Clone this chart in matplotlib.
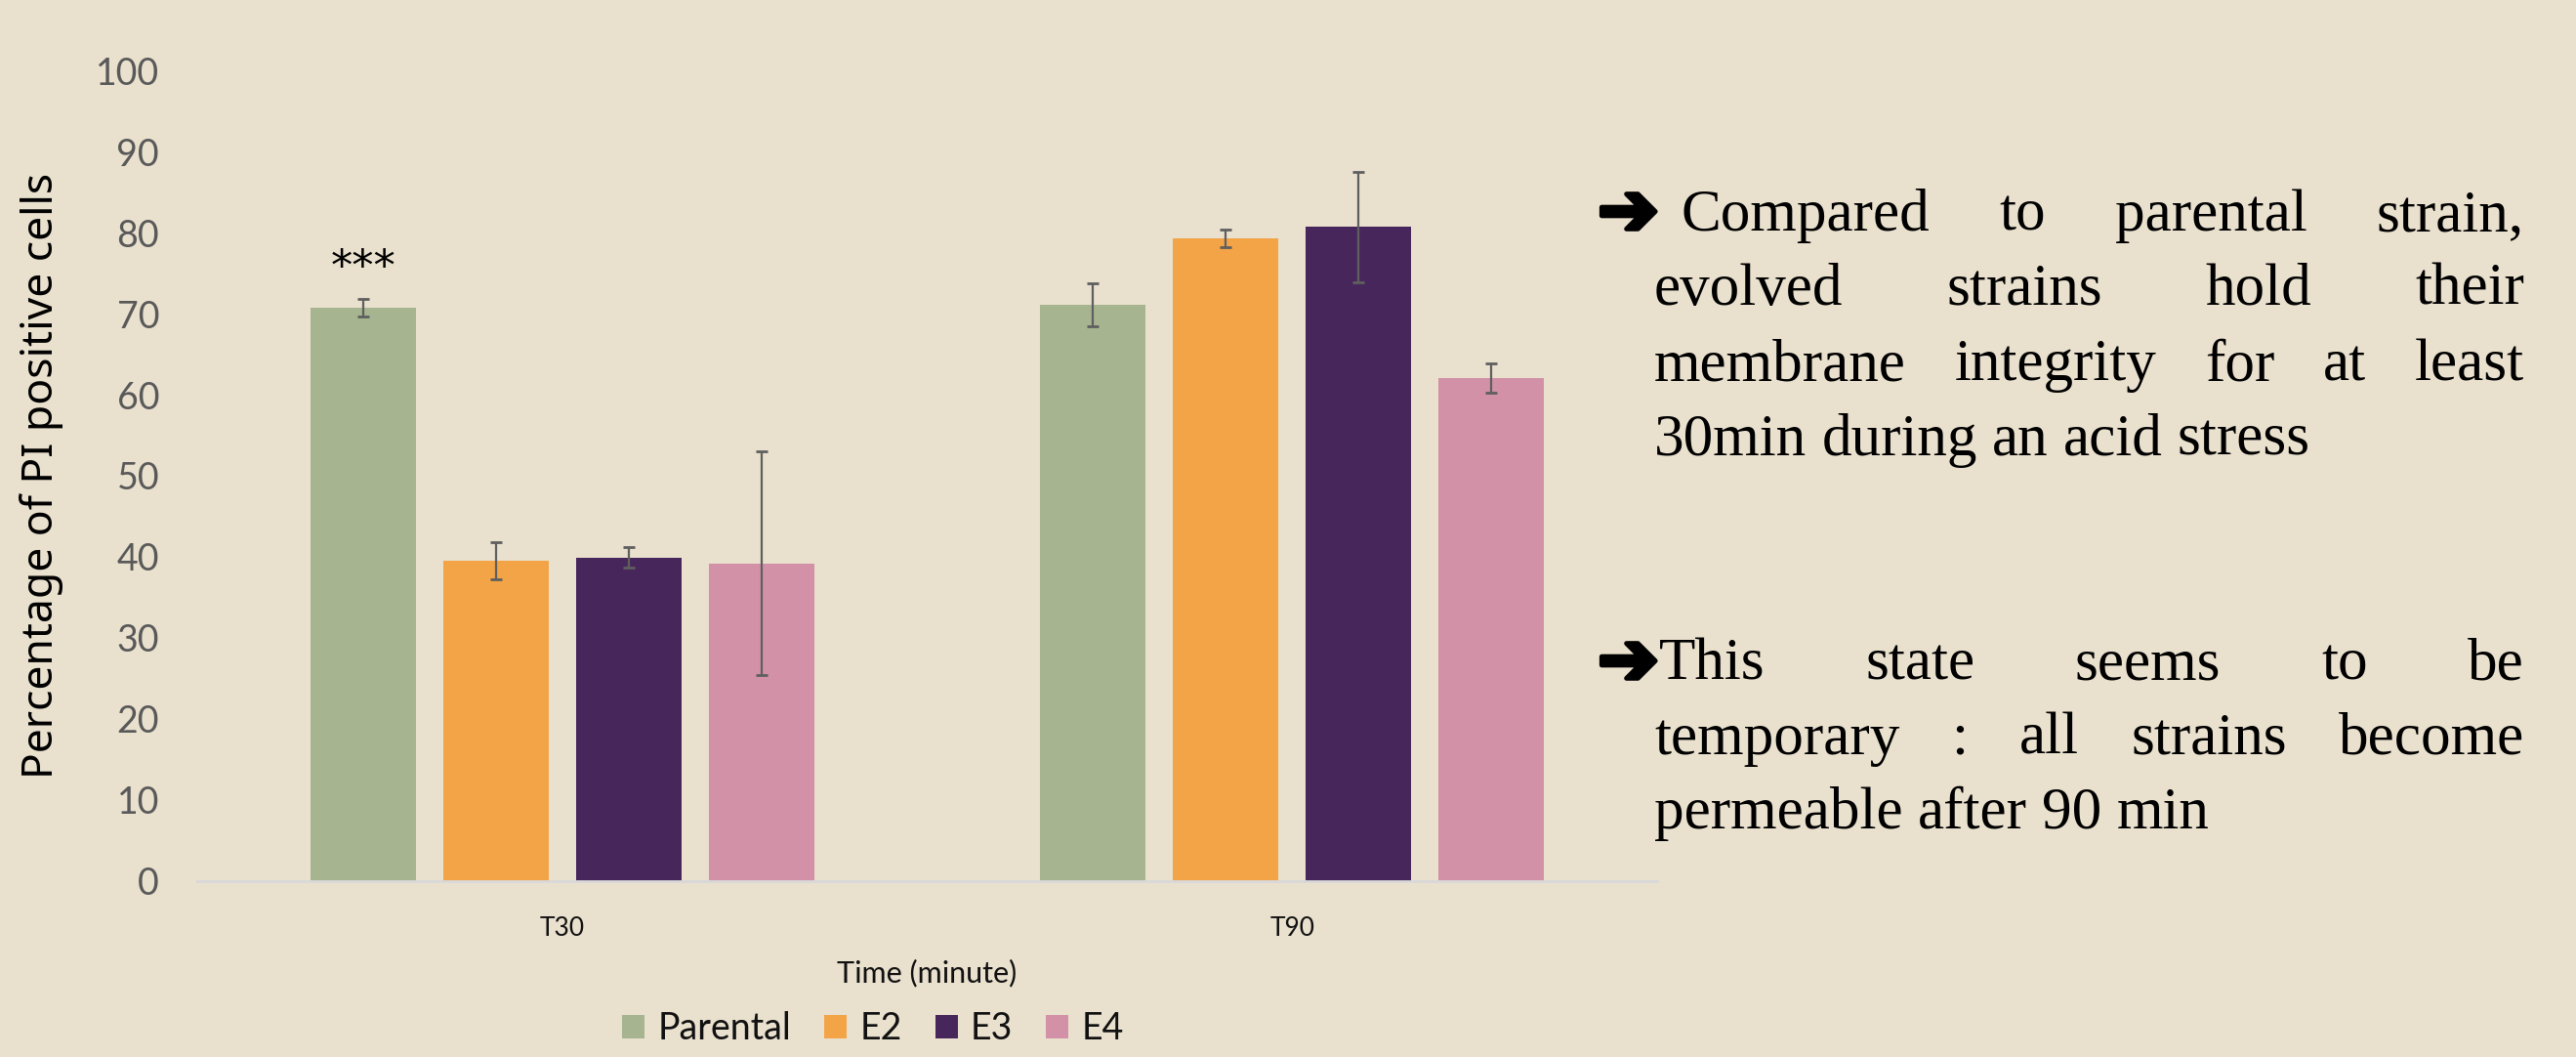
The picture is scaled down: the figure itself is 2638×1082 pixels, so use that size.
import matplotlib
matplotlib.use("Agg")
import matplotlib.pyplot as plt
import matplotlib.patheffects as pe
import numpy as np
from matplotlib.patches import Patch

# ---- data ----
categories = ["T30", "T90"]
series = ["Parental", "E2", "E3", "E4"]
parental = [70.7, 71.1]
e2 = [39.5, 79.3]
e3 = [39.9, 80.7]
e4 = [39.2, 62.1]
parental_err = [1.1, 2.7]
e2_err = [2.3, 1.1]
e3_err = [1.3, 6.8]
e4_err = [13.8, 1.8]
yticks = [0, 10, 20, 30, 40, 50, 60, 70, 80, 90, 100]
signif = ["***", ""]

values = [parental, e2, e3, e4]
errors = [parental_err, e2_err, e3_err, e4_err]
colors = ["#A7B490", "#F2A447", "#47275B", "#D291A7"]
BG = "#E9E0CE"

W, H = 2638, 1082
fig = plt.figure(figsize=(W / 100, H / 100), dpi=100, facecolor=BG)
ax = fig.add_axes([202 / W, 1 - 901.6 / H, (1697 - 202) / W, (901.6 - 72.3) / H])
ax.set_facecolor(BG)

x = np.arange(len(categories))
step = 0.182
width = 0.144
for i, (vals, errs, c) in enumerate(zip(values, errors, colors)):
    pos = x + (i - 1.5) * step
    ax.bar(pos, vals, width=width, color=c, zorder=2)
    ax.errorbar(pos, vals, yerr=errs, fmt="none", ecolor="#5f5f5f",
                elinewidth=1.6, capsize=4.5, capthick=2, zorder=3)

# significance stars
for j, s in enumerate(signif):
    if s:
        xp = x[j] + (0 - 1.5) * step
        ax.text(xp, parental[j] + parental_err[j] + 3.8, s, ha="center", va="center",
                fontsize=32, color="black", family="DejaVu Sans")

ax.set_xlim(-0.5, 1.5)
ax.set_ylim(0, 100)
ax.set_yticks(yticks)
ax.set_xticks(x)
ax.set_xticklabels(categories, fontsize=19, family="Lato", color="#111111")
for lab in ax.get_yticklabels():
    lab.set_fontsize(27)
    lab.set_family("Lato")
    lab.set_color("#595959")
ax.tick_params(axis="both", length=0)
ax.tick_params(axis="y", pad=28)
ax.tick_params(axis="x", pad=26)
for sp in ["left", "right", "top"]:
    ax.spines[sp].set_visible(False)
ax.spines["bottom"].set_color("#D9D9D9")
ax.spines["bottom"].set_linewidth(2)

ax.set_xlabel("Time (minute)", fontsize=22, family="Lato", color="#111111", labelpad=14)
ax.set_ylabel("Percentage of PI positive cells", fontsize=32, family="Noto Sans",
              color="black", labelpad=24)

handles = [Patch(facecolor=c, edgecolor="none") for c in colors]
fig.legend(handles, series, loc="center", bbox_to_anchor=(894 / W, 1 - 1053 / H),
           ncol=4, frameon=False, prop={"family": "Lato", "size": 27},
           handlelength=0.62, handleheight=0.62, handletextpad=0.35,
           columnspacing=0.9, labelcolor="#111111")

# ---- right side justified text ----
renderer = fig.canvas.get_renderer()
TFONT = dict(family="Liberation Serif", fontsize=44, color="black")


def text_width(s):
    t = fig.text(0, 0, s, transform=None, **TFONT)
    w = t.get_window_extent(renderer).width
    t.remove()
    return w


SPACE_W = text_width("a a") - 2 * text_width("a")


def place_line(words, xl, xr, yb, justify):
    objs = [fig.text(0, 0, w, transform=None, va="baseline", ha="left", **TFONT) for w in words]
    widths = [o.get_window_extent(renderer).width for o in objs]
    if justify and len(words) > 1:
        gap = (xr - xl - sum(widths)) / (len(words) - 1)
    else:
        gap = SPACE_W
    cx = xl
    for o, w in zip(objs, widths):
        o.set_position((cx, H - yb))
        cx += w + gap


def arrow(xl, yb):
    fig.text(xl, H - yb, "\u2794", transform=None, va="baseline", ha="left",
             family="DejaVu Sans", fontweight="bold", fontsize=54, color="black",
             path_effects=[pe.withStroke(linewidth=3.5, foreground="black")])


para1 = [("Compared to parental strain,", 1721, True, 236),
         ("evolved strains hold their", 1694, True, 312),
         ("membrane integrity for at least", 1694, True, 389),
         ("30min during an acid stress", 1694, False, 466)]
para2 = [("This state seems to be", 1699, True, 696),
         ("temporary : all strains become", 1694, True, 772),
         ("permeable after 90 min", 1694, False, 848)]
XR = 2585
arrow(1636, 240)
arrow(1636, 700)
for line, xl, just, yb in para1 + para2:
    place_line(line.split(" "), xl, XR, yb, just)

fig.savefig("out.png", dpi=100, facecolor=BG)
